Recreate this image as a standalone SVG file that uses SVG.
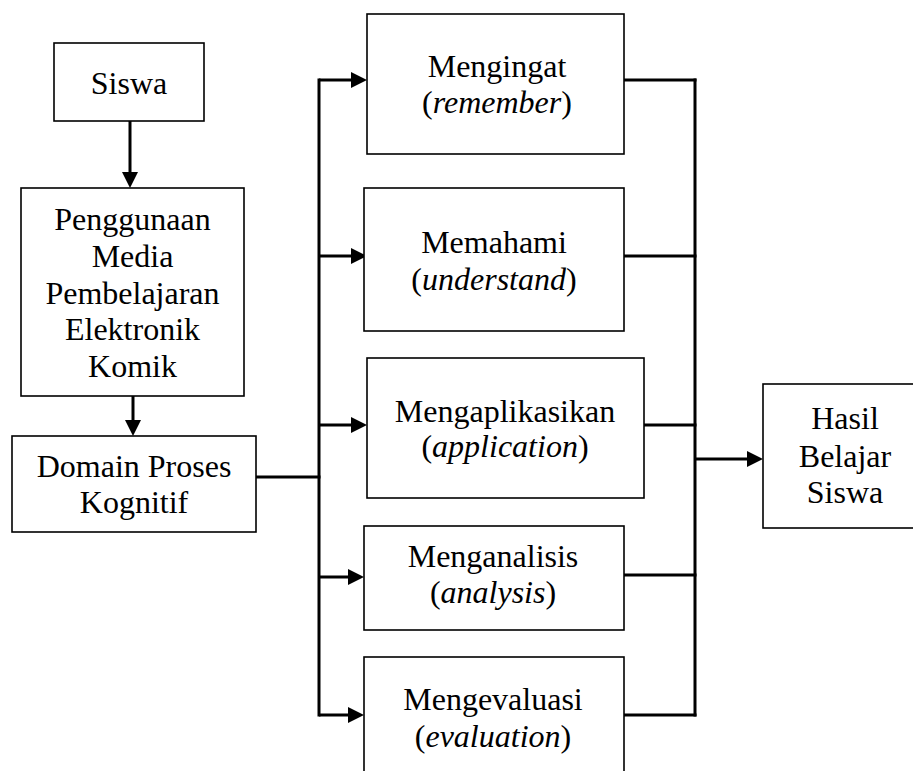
<svg xmlns="http://www.w3.org/2000/svg" width="913" height="771" viewBox="0 0 913 771">
<style>
  .box { fill: #fff; stroke: #000; stroke-width: 1.6; }
  .t { font-family: 'Liberation Serif', Tinos, 'DejaVu Serif', serif; font-size: 32px; fill: #000; text-anchor: middle; }
  .i { font-style: italic; }
  .c { stroke: #000; stroke-width: 3; fill: none; stroke-linecap: square; }
  .a { stroke: #000; stroke-width: 3; fill: none; marker-end: url(#arr); }
</style>
<defs>
  <marker id="arr" viewBox="0 0 16 16" markerWidth="16" markerHeight="16" refX="6" refY="8" markerUnits="userSpaceOnUse" orient="auto">
    <path d="M0,0 L16,8 L0,16 z" fill="#000"/>
  </marker>
</defs>
<rect width="913" height="771" fill="#fff"/>

<g id="connectors">
  <line class="a" x1="130" y1="121" x2="130" y2="178"/>
  <line class="a" x1="133" y1="396" x2="133" y2="426"/>
  <line class="c" x1="256" y1="477" x2="319" y2="477"/>
  <line class="c" x1="319" y1="80" x2="319" y2="715"/>
  <line class="a" x1="319" y1="80" x2="357" y2="80"/>
  <line class="a" x1="319" y1="256" x2="357" y2="256"/>
  <line class="a" x1="319" y1="425" x2="357" y2="425"/>
  <line class="a" x1="319" y1="577" x2="354" y2="577"/>
  <line class="a" x1="319" y1="715" x2="354" y2="715"/>
  <line class="c" x1="624" y1="80" x2="695" y2="80"/>
  <line class="c" x1="624" y1="256" x2="695" y2="256"/>
  <line class="c" x1="644" y1="425" x2="695" y2="425"/>
  <line class="c" x1="624" y1="575" x2="695" y2="575"/>
  <line class="c" x1="624" y1="715" x2="695" y2="715"/>
  <line class="c" x1="695" y1="80" x2="695" y2="715"/>
  <line class="a" x1="695" y1="459" x2="753" y2="459"/>
</g>

<g id="siswa">
  <rect class="box" x="54" y="43" width="150" height="78"/>
  <text class="t" x="129" y="94">Siswa</text>
</g>
<g id="penggunaan">
  <rect class="box" x="21" y="188" width="223" height="208"/>
  <text class="t" x="132.5" y="230">Penggunaan</text>
  <text class="t" x="132.5" y="267">Media</text>
  <text class="t" x="132.5" y="304">Pembelajaran</text>
  <text class="t" x="132.5" y="340">Elektronik</text>
  <text class="t" x="132.5" y="377">Komik</text>
</g>
<g id="domain">
  <rect class="box" x="12" y="436" width="244" height="96"/>
  <text class="t" x="134" y="477">Domain Proses</text>
  <text class="t" x="134" y="513">Kognitif</text>
</g>
<g id="mengingat">
  <rect class="box" x="367" y="14" width="257" height="140"/>
  <text class="t" x="497" y="77">Mengingat</text>
  <text class="t" x="497" y="113">(<tspan class="i">remember</tspan>)</text>
</g>
<g id="memahami">
  <rect class="box" x="364" y="188" width="260" height="143"/>
  <text class="t" x="494" y="253">Memahami</text>
  <text class="t" x="494" y="290">(<tspan class="i">understand</tspan>)</text>
</g>
<g id="mengaplikasikan">
  <rect class="box" x="367" y="358" width="277" height="140"/>
  <text class="t" x="505" y="422">Mengaplikasikan</text>
  <text class="t" x="505" y="457">(<tspan class="i">application</tspan>)</text>
</g>
<g id="menganalisis">
  <rect class="box" x="364" y="526" width="260" height="104"/>
  <text class="t" x="493" y="567">Menganalisis</text>
  <text class="t" x="493" y="603">(<tspan class="i">analysis</tspan>)</text>
</g>
<g id="mengevaluasi">
  <rect class="box" x="364" y="657" width="260" height="130"/>
  <text class="t" x="493" y="710">Mengevaluasi</text>
  <text class="t" x="493" y="747">(<tspan class="i">evaluation</tspan>)</text>
</g>
<g id="hasil">
  <rect class="box" x="763" y="384" width="164" height="144"/>
  <text class="t" x="845" y="429">Hasil</text>
  <text class="t" x="845" y="467">Belajar</text>
  <text class="t" x="845" y="503">Siswa</text>
</g>
</svg>
